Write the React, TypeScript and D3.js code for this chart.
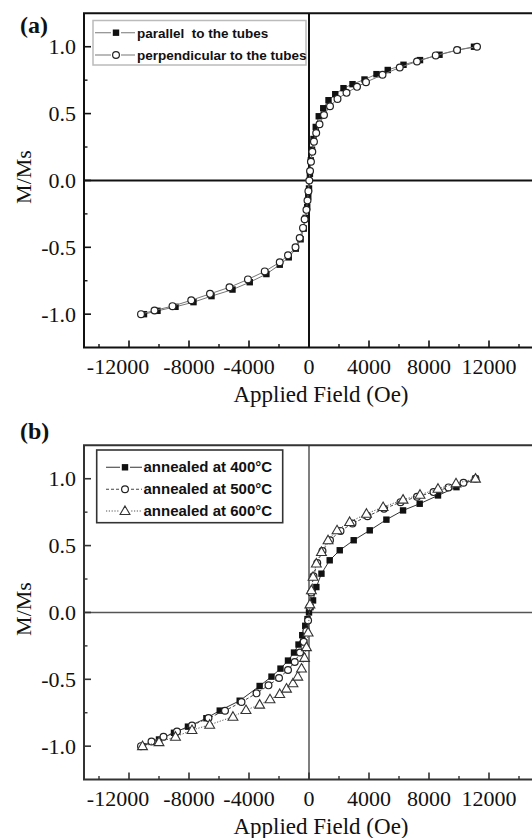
import * as d3 from 'd3';
import React from 'react';

const W = 532;
const H = 838;

// ---- panel (a) data : applied field (Oe) / M/Ms ----
const parallelH = [-11000, -10100, -8900, -7700, -6500, -5100, -3950, -2840, -1950, -1350, -880, -560, -350, -220, -120, -50, 0, 60, 120, 200, 300, 450, 650, 950, 1300, 1750, 2300, 2900, 3700, 4500, 5250, 6300, 7400, 8700, 9900, 11000];
const parallelM = [-1.0, -0.975, -0.945, -0.91, -0.865, -0.816, -0.761, -0.70, -0.63, -0.575, -0.51, -0.44, -0.36, -0.28, -0.2, -0.12, -0.06, 0.05, 0.15, 0.23, 0.31, 0.4, 0.48, 0.54, 0.6, 0.645, 0.69, 0.72, 0.755, 0.795, 0.826, 0.865, 0.9, 0.94, 0.975, 1.0];
const perpH = [-11200, -10300, -9100, -7850, -6600, -5300, -4070, -2950, -1950, -1400, -900, -620, -400, -290, -170, -100, -40, 20, 70, 130, 220, 330, 480, 700, 1000, 1400, 1900, 2500, 3200, 3800, 4900, 6050, 7200, 8450, 9870, 11200];
const perpM = [-1.0, -0.972, -0.94, -0.896, -0.848, -0.799, -0.74, -0.68, -0.612, -0.56, -0.5, -0.43, -0.355, -0.29, -0.22, -0.15, -0.08, 0.0, 0.07, 0.14, 0.215, 0.29, 0.355, 0.42, 0.49, 0.555, 0.61, 0.655, 0.70, 0.735, 0.79, 0.845, 0.89, 0.935, 0.975, 1.0];

// ---- panel (b) data ----
const a400H = [-11100, -10000, -9000, -8070, -6840, -5950, -4620, -3290, -2500, -1900, -1400, -1000, -700, -450, -250, -100, 0, 100, 270, 490, 830, 1380, 2050, 2980, 4050, 5160, 6270, 7380, 8600, 9830, 11100];
const a400M = [-1.0, -0.95, -0.9, -0.854, -0.791, -0.734, -0.66, -0.55, -0.48, -0.42, -0.36, -0.3, -0.24, -0.17, -0.1, -0.05, 0.0, 0.04, 0.09, 0.19, 0.29, 0.39, 0.465, 0.54, 0.614, 0.694, 0.763, 0.813, 0.875, 0.937, 1.0];
const a500H = [-11200, -10500, -9700, -8800, -7800, -6700, -5600, -4500, -3500, -2700, -2000, -1400, -950, -600, -350, -180, -60, 40, 150, 300, 550, 900, 1400, 2100, 2900, 3900, 5000, 6100, 7200, 8300, 9300, 10300, 11100];
const a500M = [-1.0, -0.965, -0.93, -0.89, -0.845, -0.79, -0.735, -0.67, -0.605, -0.545, -0.49, -0.43, -0.37, -0.3, -0.22, -0.14, -0.06, 0.04, 0.15, 0.27, 0.37, 0.46, 0.54, 0.61, 0.665, 0.72, 0.775, 0.825, 0.865, 0.9, 0.935, 0.97, 1.0];
const a600H = [-11100, -10000, -8900, -7800, -6620, -5070, -4200, -3290, -2600, -1950, -1500, -1070, -750, -500, -300, -170, -60, 60, 160, 270, 490, 830, 1270, 1870, 2710, 3830, 4940, 6270, 7400, 8600, 9800, 11100];
const a600M = [-1.0, -0.97, -0.93, -0.88, -0.84, -0.78, -0.73, -0.69, -0.65, -0.61, -0.57, -0.53, -0.48, -0.42, -0.34, -0.26, -0.15, 0.06, 0.166, 0.266, 0.366, 0.452, 0.54, 0.614, 0.676, 0.738, 0.788, 0.843, 0.88, 0.925, 0.965, 1.0];

const xTicks = [-12000, -8000, -4000, 0, 4000, 8000, 12000];
const xMinor = [-14000, -10000, -6000, -2000, 2000, 6000, 10000, 14000];
const yTicks = [-1.0, -0.5, 0.0, 0.5, 1.0];
const yMinor = [-0.75, -0.25, 0.25, 0.75];

const serif = '"Liberation Serif", "Times New Roman", serif';
const sans = '"Liberation Sans", Arial, sans-serif';

const zip = (xs, ys) => xs.map((x, i) => [x, ys[i]]);

const Marker = ({ kind, x, y }) => {
  if (kind === 'square') return <rect x={x - 3.2} y={y - 3.2} width={6.4} height={6.4} fill="#111" />;
  if (kind === 'circle') return <circle cx={x} cy={y} r={3.4} fill="#fff" stroke="#222" strokeWidth={1.2} />;
  const p = d3.symbol(d3.symbolTriangle, 42)();
  return <path d={p} transform={`translate(${x},${y + 0.6})`} fill="#fff" stroke="#333" strokeWidth={1.1} />;
};

const Panel = ({ dy, label, labelY, series, legend, axisColor, zeroColor, zeroWidth }) => {
  const x = d3.scaleLinear().domain([-15000, 15000]).range([84, 534]);
  const y = d3.scaleLinear().domain([-1.25, 1.25]).range([347.6, 13.3]);
  const line = d3.line().x(d => x(d[0])).y(d => y(d[1]));
  const [x0] = x.range();
  const [yb, yt] = y.range();

  return (
    <g transform={`translate(0,${dy})`}>
      {/* zero lines */}
      <line x1={x0} x2={W} y1={y(0)} y2={y(0)} stroke={zeroColor} strokeWidth={zeroWidth} />
      <line x1={x(0)} x2={x(0)} y1={yt} y2={yb} stroke={zeroColor} strokeWidth={zeroWidth} />

      {/* series */}
      {series.map((s, i) => (
        <g key={i}>
          <path d={line(zip(s.h, s.m))} fill="none" stroke={s.stroke} strokeWidth={1} strokeDasharray={s.dash} />
          {zip(s.h, s.m).map((d, j) => <Marker key={j} kind={s.marker} x={x(d[0])} y={y(d[1])} />)}
        </g>
      ))}

      {/* frame */}
      <path d={`M${W},${yt}H${x0}V${yb}H${W}`} fill="none" stroke={axisColor} strokeWidth={2} />
      {xTicks.map(t => <line key={t} x1={x(t)} x2={x(t)} y1={yb} y2={yb - 7} stroke={axisColor} strokeWidth={1.6} />)}
      {xMinor.map(t => <line key={t} x1={x(t)} x2={x(t)} y1={yb} y2={yb - 3.5} stroke={axisColor} strokeWidth={1.4} />)}
      {yTicks.map(t => <line key={t} x1={x0} x2={x0 + 7} y1={y(t)} y2={y(t)} stroke={axisColor} strokeWidth={1.6} />)}
      {yMinor.map(t => <line key={t} x1={x0} x2={x0 + 3.5} y1={y(t)} y2={y(t)} stroke={axisColor} strokeWidth={1.4} />)}

      {/* tick labels (crowded first label sits a bit left, as in the original) */}
      {xTicks.map(t => (
        <text key={t} x={x(t) + (t === -12000 ? -11 : 0)} y={374} textAnchor="middle" fontFamily={serif} fontSize={22} fill="#111">{String(t)}</text>
      ))}
      {yTicks.map(t => (
        <text key={t} x={76} y={y(t) + 7.5} textAnchor="end" fontFamily={serif} fontSize={22} fill="#111">{t.toFixed(1)}</text>
      ))}

      <text x={321} y={402} textAnchor="middle" fontFamily={serif} fontSize={23} fill="#111">Applied Field (Oe)</text>
      <text transform="translate(31,177) rotate(-90)" textAnchor="middle" fontFamily={serif} fontSize={22} fill="#111">M/Ms</text>
      <text x={20} y={labelY} fontFamily={serif} fontSize={24} fontWeight="bold" fill="#111">{label}</text>

      {/* legend */}
      <rect x={legend.x} y={legend.y} width={legend.w} height={legend.h} fill="#fff" stroke={legend.border} strokeWidth={legend.bw} />
      {series.map((s, i) => {
        const ry = legend.rowY[i];
        return (
          <g key={i}>
            <line x1={legend.lx0} x2={legend.lx1} y1={ry} y2={ry} stroke={s.stroke} strokeWidth={1.1} strokeDasharray={s.dash} />
            <rect x={legend.mx - 5} y={ry - 5} width={10} height={10} fill="#fff" />
            <Marker kind={s.marker} x={legend.mx} y={ry} />
            <text x={legend.tx} y={ry + 5} fontFamily={sans} fontSize={legend.fs} fontWeight="bold" fill="#111" style={{ whiteSpace: 'pre' }}>{s.name}</text>
          </g>
        );
      })}
    </g>
  );
};

export default function App() {
  const seriesA = [
    { name: 'parallel  to the tubes', h: parallelH, m: parallelM, marker: 'square', stroke: '#777', dash: null },
    { name: 'perpendicular to the tubes', h: perpH, m: perpM, marker: 'circle', stroke: '#777', dash: null },
  ];
  const seriesB = [
    { name: 'annealed at 400°C', h: a400H, m: a400M, marker: 'square', stroke: '#333', dash: null },
    { name: 'annealed at 500°C', h: a500H, m: a500M, marker: 'circle', stroke: '#444', dash: '3,2' },
    { name: 'annealed at 600°C', h: a600H, m: a600M, marker: 'triangle', stroke: '#555', dash: '1.2,1.6' },
  ];
  const legendA = { x: 93, y: 20.5, w: 213, h: 44.5, border: '#bbb', bw: 1.5, rowY: [32.7, 55], lx0: 95, lx1: 135, mx: 116, tx: 137, fs: 13.5 };
  const legendB = { x: 96.7, y: 450 - 432, w: 186, h: 72.7, border: '#333', bw: 1.6, rowY: [467.3 - 432, 489.3 - 432, 511 - 432], lx0: 106, lx1: 142, mx: 125, tx: 143.5, fs: 15 };

  return (
    <svg width={W} height={H} style={{ position: 'absolute', left: 0, top: 0, background: '#fff' }}>
      <rect width={W} height={H} fill="#fff" />
      <Panel dy={0} label="(a)" labelY={33} series={seriesA} legend={legendA} axisColor="#111" zeroColor="#111" zeroWidth={2} />
      <Panel dy={432} label="(b)" labelY={439 - 432} series={seriesB} legend={legendB} axisColor="#333" zeroColor="#555" zeroWidth={1.5} />
    </svg>
  );
}
